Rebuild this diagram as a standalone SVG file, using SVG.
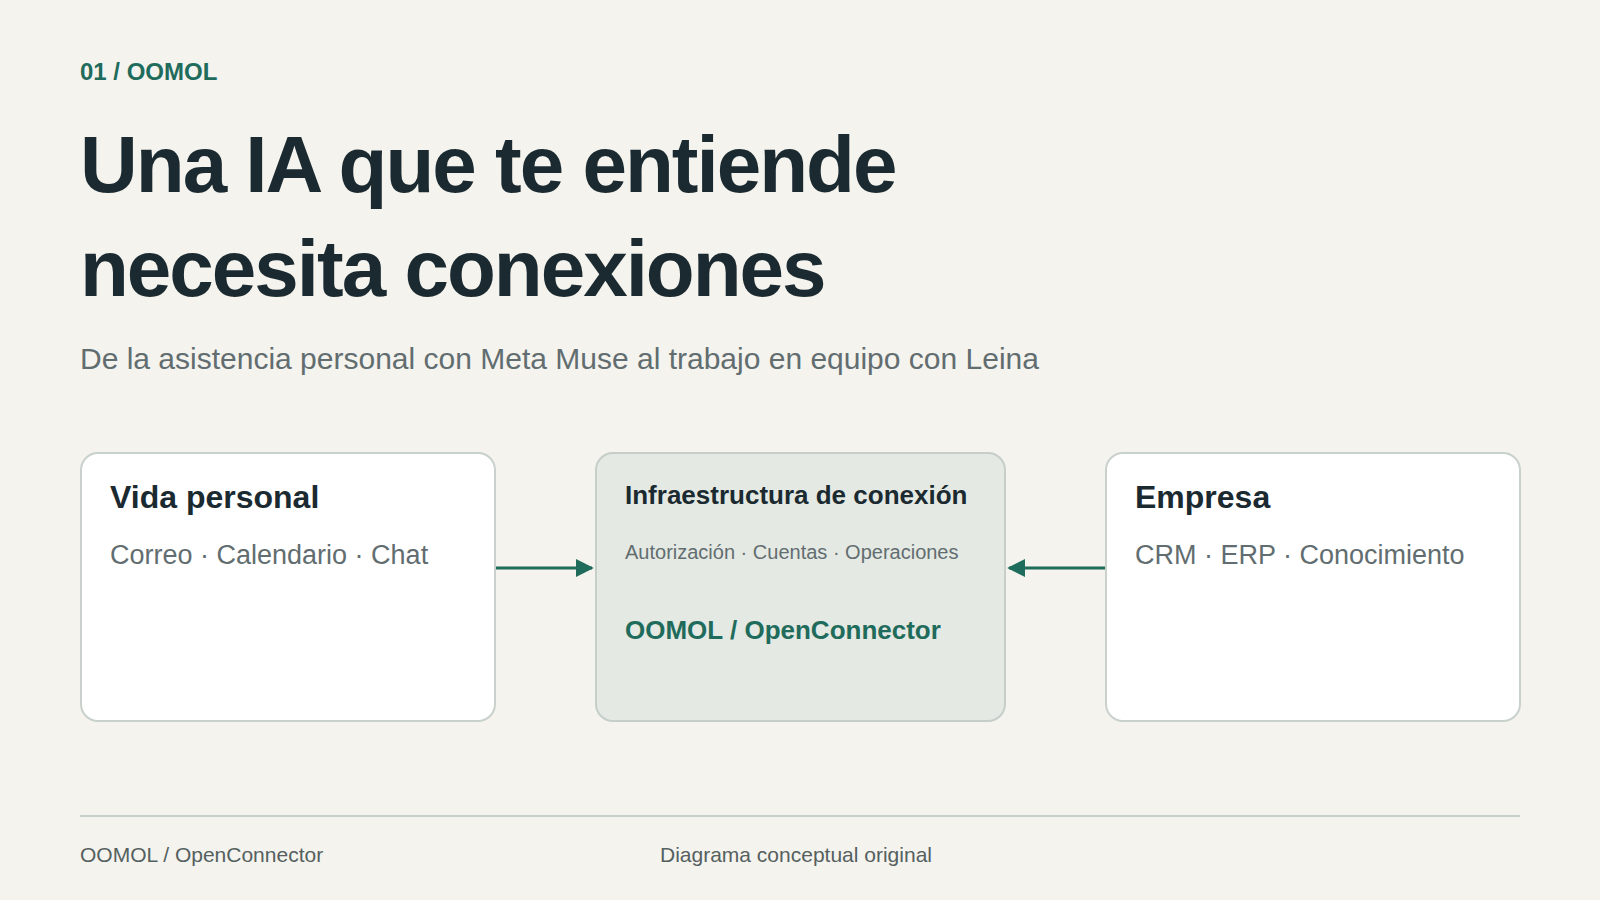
<svg xmlns="http://www.w3.org/2000/svg" width="1600" height="900" viewBox="0 0 1600 900">
  <defs>
    <style>
      text { font-family: "Liberation Sans", Arial, sans-serif; }
      .eyebrow { font-size: 24px; font-weight: 700; fill: #1f6b5c; }
      .title { font-size: 80px; font-weight: 700; fill: #1b2a30; letter-spacing: -2px; }
      .subtitle { font-size: 30px; fill: #626d70; }
      .card { fill: #ffffff; stroke: #c9d1cd; stroke-width: 2; }
      .card-core { fill: #e4e9e3; stroke: #c5cec9; stroke-width: 2; }
      .h { font-size: 32px; font-weight: 700; fill: #1b2a30; }
      .h-core { font-size: 26px; font-weight: 700; fill: #1b2a30; }
      .body { font-size: 27px; fill: #626d70; }
      .body-core { font-size: 20px; fill: #626d70; }
      .brand { font-size: 26px; font-weight: 700; fill: #1f6b5c; }
      .foot { font-size: 21px; fill: #55605f; }
      .conn { stroke: #1f6b5c; stroke-width: 3; fill: none; }
    </style>
    <marker id="arrow" viewBox="0 0 10 10" refX="9" refY="5" markerWidth="6" markerHeight="6" orient="auto" markerUnits="strokeWidth">
      <path d="M0,0 L10,5 L0,10 z" fill="#1f6b5c"/>
    </marker>
  </defs>

  <rect x="0" y="0" width="1600" height="900" fill="#f4f3ee"/>

  <g id="header">
    <text class="eyebrow" x="80" y="80">01 / OOMOL</text>
    <text class="title" x="80" y="192">Una IA que te entiende</text>
    <text class="title" x="80" y="296">necesita conexiones</text>
    <text class="subtitle" x="80" y="369">De la asistencia personal con Meta Muse al trabajo en equipo con Leina</text>
  </g>

  <g id="connectors">
    <line class="conn" x1="495" y1="568" x2="592" y2="568" marker-end="url(#arrow)"/>
    <line class="conn" x1="1106" y1="568" x2="1009" y2="568" marker-end="url(#arrow)"/>
  </g>

  <g id="node-personal">
    <rect class="card" x="81" y="453" width="414" height="268" rx="17"/>
    <text class="h" x="110" y="508">Vida personal</text>
    <text class="body" x="110" y="564">Correo · Calendario · Chat</text>
  </g>

  <g id="node-infra">
    <rect class="card-core" x="596" y="453" width="409" height="268" rx="17"/>
    <text class="h-core" x="625" y="504">Infraestructura de conexión</text>
    <text class="body-core" x="625" y="559">Autorización · Cuentas · Operaciones</text>
    <text class="brand" x="625" y="639">OOMOL / OpenConnector</text>
  </g>

  <g id="node-empresa">
    <rect class="card" x="1106" y="453" width="414" height="268" rx="17"/>
    <text class="h" x="1135" y="508">Empresa</text>
    <text class="body" x="1135" y="564">CRM · ERP · Conocimiento</text>
  </g>

  <g id="footer">
    <line x1="80" y1="816" x2="1520" y2="816" stroke="#c5cfcb" stroke-width="2"/>
    <text class="foot" x="80" y="862">OOMOL / OpenConnector</text>
    <text class="foot" x="660" y="862">Diagrama conceptual original</text>
  </g>
</svg>
